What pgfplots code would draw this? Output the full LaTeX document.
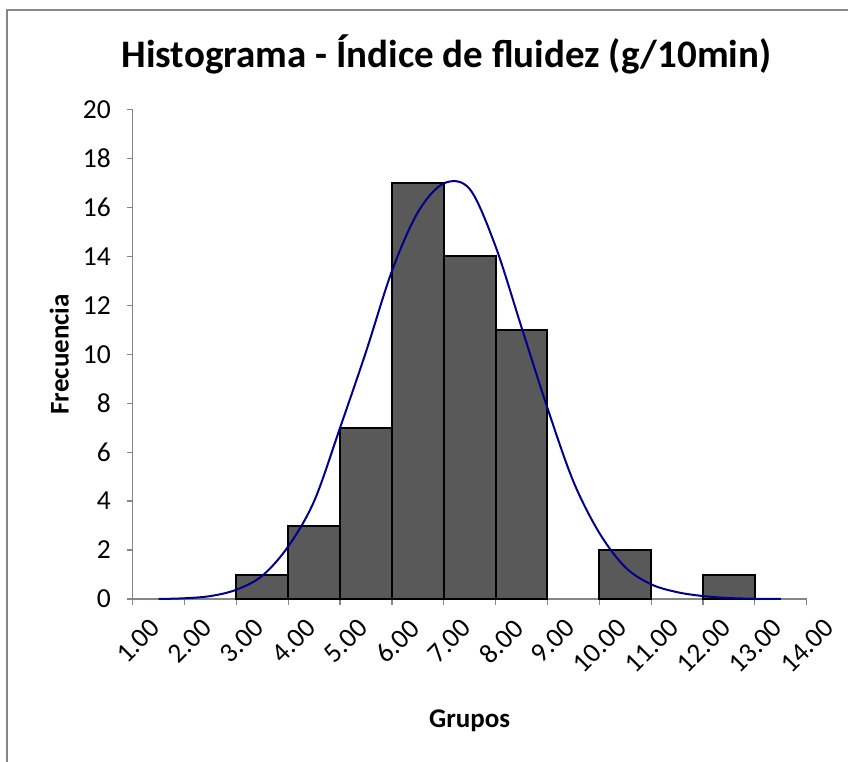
\documentclass[border=0pt]{standalone}
\usepackage{fontspec}
\setmainfont{Carlito}
\usepackage{pgfplots}
\pgfplotsset{compat=1.18}
\definecolor{axgray}{RGB}{134,134,134}
\definecolor{barfill}{RGB}{89,89,89}
\definecolor{curveblue}{RGB}{0,0,140}
\begin{document}
\begin{tikzpicture}
\useasboundingbox (0pt,0pt) rectangle (848pt,762pt);
\draw[axgray, line width=1.6pt] (7pt,0pt) -- (7pt,752pt) -- (848pt,752pt);
\node[anchor=base, font=\fontsize{39}{46}\selectfont\bfseries] at (446.5pt,694pt) {Histograma - Índice de fluidez (g/10min)};
\begin{axis}[
  at={(132.7pt,163pt)}, anchor=south west,
  scale only axis, width=674pt, height=489.5pt,
  xmin=1, xmax=14, ymin=0, ymax=20,
  axis x line=bottom, axis y line=left,
  axis line style={-, axgray, line width=1.2pt},
  xtick={1,...,14}, ytick={0,2,...,20},
  minor tick num=0,
  tick align=outside, major tick length=6pt,
  tick style={axgray, line width=1.2pt},
  /pgf/number format/assume math mode=true,
  ticklabel style={font=\fontsize{27.5}{32}\selectfont, text=black},
  xticklabel={\pgfmathprintnumber[fixed,fixed zerofill,precision=2]{\tick}},
  xticklabel style={rotate=45, anchor=north east, inner sep=0pt, xshift=3pt, yshift=-20pt},
  yticklabel style={anchor=east, inner sep=0pt, xshift=-15.7pt},
  xlabel={Grupos}, ylabel={Frecuencia},
  label style={font=\fontsize{27}{32}\selectfont\bfseries},
  xlabel style={at={(axis description cs:0.5,-0.2635)}, anchor=base},
  ylabel style={at={(axis description cs:-0.109,0.5)}, anchor=center},
  clip=false,
]
\addplot[ybar interval, fill=barfill, draw=black, line width=2pt] coordinates {(3,1) (4,3) (5,7) (6,17) (7,14) (8,11) (9,0)};
\addplot[ybar interval, fill=barfill, draw=black, line width=2pt] coordinates {(10,2) (11,0)};
\addplot[ybar interval, fill=barfill, draw=black, line width=2pt] coordinates {(12,1) (13,0)};
\addplot[curveblue, line width=2pt, smooth, tension=0.55, mark=none] coordinates {
(1.5,0) (2.0,0.03) (2.5,0.12) (3.0,0.38) (3.5,0.95) (4.0,2.15) (4.5,4.0) (5.0,7.0) (5.5,10.1) (6.0,13.4) (6.5,15.8) (7.0,16.98) (7.5,16.75) (8.0,14.4) (8.5,11.1) (9.0,7.8) (9.5,4.8) (10.0,2.7) (10.5,1.3) (11.0,0.6) (11.5,0.28) (12.0,0.12) (12.5,0.04) (13.0,0.01) (13.5,0)};
\end{axis}
\end{tikzpicture}
\end{document}
